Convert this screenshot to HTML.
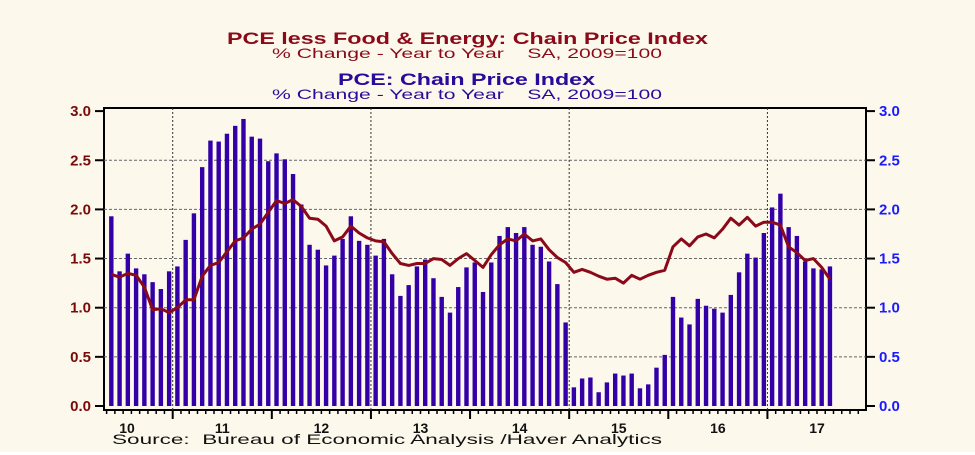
<!DOCTYPE html>
<html><head><meta charset="utf-8"><style>
body{margin:0;background:#fff;}
svg{display:block;font-family:"Liberation Sans",Arial,sans-serif;}
</style></head><body>
<svg id="chart" width="975" height="455">
<rect x="0" y="0" width="975" height="452" fill="#fdf8ec"/>
<text x="227" y="44" textLength="481" lengthAdjust="spacingAndGlyphs" font-size="17" font-weight="bold" fill="#8b0a1a">PCE less Food &amp; Energy: Chain Price Index</text>
<text x="272" y="58" textLength="390" lengthAdjust="spacingAndGlyphs" font-size="14" fill="#8b0a1a">% Change - Year to Year&#160;&#160;&#160;&#160;SA, 2009=100</text>
<text x="338" y="85" textLength="257" lengthAdjust="spacingAndGlyphs" font-size="17" font-weight="bold" fill="#2a0a9a">PCE: Chain Price Index</text>
<text x="272" y="99" textLength="390" lengthAdjust="spacingAndGlyphs" font-size="14" fill="#2a0a9a">% Change - Year to Year&#160;&#160;&#160;&#160;SA, 2009=100</text>
<g id="plot"></g>
<text x="112" y="444" textLength="550" lengthAdjust="spacingAndGlyphs" font-size="14" fill="#111">Source:&#160;&#160;Bureau of Economic Analysis /Haver Analytics</text>
</svg>
<script>
const pceValues=[1.93,1.37,1.55,1.40,1.34,1.26,1.19,1.37,
1.42,1.69,1.96,2.43,2.70,2.69,2.77,2.85,2.92,2.74,2.72,2.49,
2.57,2.51,2.36,2.05,1.64,1.59,1.43,1.53,1.70,1.93,1.68,1.64,
1.53,1.70,1.34,1.12,1.23,1.42,1.49,1.30,1.11,0.95,1.21,1.41,
1.46,1.16,1.46,1.73,1.82,1.76,1.82,1.64,1.62,1.47,1.24,0.85,
0.19,0.28,0.29,0.14,0.24,0.33,0.31,0.33,0.18,0.22,0.39,0.52,
1.11,0.90,0.83,1.09,1.02,0.99,0.95,1.13,1.36,1.55,1.51,1.76,
2.02,2.16,1.82,1.73,1.47,1.40,1.39,1.42];
const coreValues=[1.34,1.31,1.35,1.33,1.21,0.98,0.99,0.95,
1.00,1.08,1.08,1.32,1.43,1.46,1.57,1.68,1.71,1.80,1.85,1.97,
2.09,2.06,2.10,2.03,1.91,1.90,1.83,1.68,1.72,1.83,1.76,1.71,
1.68,1.67,1.55,1.45,1.43,1.45,1.45,1.50,1.49,1.43,1.50,1.55,
1.48,1.41,1.54,1.64,1.70,1.68,1.75,1.68,1.70,1.59,1.51,1.46,
1.36,1.39,1.36,1.32,1.29,1.30,1.25,1.33,1.29,1.33,1.36,1.38,
1.62,1.70,1.63,1.72,1.75,1.71,1.80,1.91,1.84,1.92,1.83,1.87,
1.87,1.84,1.62,1.56,1.48,1.50,1.41,1.29];
const yTicks=[0,0.5,1.0,1.5,2.0,2.5,3.0];
const yearLabels=["10","11","12","13","14","15","16","17"];
const startMonth=-8; // May 2010 relative to Jan 2011

const NS="http://www.w3.org/2000/svg";
const g=document.getElementById('plot');
const L=104,R=866,T=108,B=410;
const xM=k=>177.4+8.26*k;
const xB=k=>172.7+8.26*k;
const y=v=>406-v*98.3;
function el(t,a){const e=document.createElementNS(NS,t);for(const k in a)e.setAttribute(k,a[k]);g.appendChild(e);return e;}

let e=el('rect',{x:L,y:T,width:R-L,height:B-T,fill:'none',stroke:'#000','stroke-width':2});



yTicks.forEach(v=>{
  if(v>0&&v<3){const l=el('line',{x1:L,x2:R,y1:y(v),y2:y(v),stroke:'#666','stroke-dasharray':'3,2','stroke-width':1});
  
  }
  const t1=el('line',{x1:L-9,x2:L,y1:y(v),y2:y(v),stroke:'#000','stroke-width':2});
  
  
  const t2=el('line',{x1:R,x2:R+9,y1:y(v),y2:y(v),stroke:'#000','stroke-width':2});
  
  
  const a=el('text',{x:L-13,y:y(v)+5,'text-anchor':'end','font-size':15,'font-weight':'bold',fill:'#7a0a0a'});
  a.textContent=v.toFixed(1);
  
  
  const b=el('text',{x:R+13,y:y(v)+5,'font-size':15,'font-weight':'bold',fill:'#1a1aff'});
  b.textContent=v.toFixed(1);
  
  
});

[0,24,48,72].forEach(k=>{
  const l=el('line',{x1:xB(k),x2:xB(k),y1:T,y2:B,stroke:'#333','stroke-dasharray':'2,2','stroke-width':1});
  
  
});

for(let k=-12;k<=84;k++){
  const x=xB(k); if(x<L||x>R)continue;
  const maj=(k%12===0);
  const l=el('line',{x1:x,x2:x,y1:B,y2:B+(maj?9:4),stroke:'#000','stroke-width':maj?2:1.5});
  
  
}
yearLabels.forEach((s,i)=>{
  const yr=i-1;
  const x=i===0?127:xB(yr*12+6);
  const t=el('text',{x:x,y:433,'text-anchor':'middle','font-size':14,'font-weight':'bold',fill:'#111'});
  t.textContent=s;
  
  
});

pceValues.forEach((v,i)=>{
  const k=startMonth+i;
  const r=el('rect',{x:xM(k)-2.2,y:y(v),width:4.4,height:y(0)-y(v),fill:'#3300a8'});
  
  
});
const pts=coreValues.map((v,i)=>xM(startMonth+i).toFixed(1)+','+y(v).toFixed(1)).join(' ');
const pl=el('polyline',{points:pts,fill:'none',stroke:'#8b0a1a','stroke-width':3,'stroke-linejoin':'round'});


</script>
</body></html>
